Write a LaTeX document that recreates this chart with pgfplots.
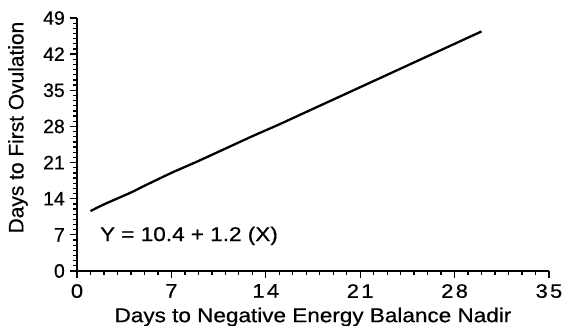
\documentclass[border=0pt]{standalone}
\usepackage{pgfplots}
\pgfplotsset{compat=1.18}
\usepackage{fontspec}
\setmainfont[FakeBold=0.6]{Liberation Sans}
\newfontfamily\vfont[FakeBold=0.6]{Liberation Sans}
\newfontfamily\hfont[FakeStretch=1.13,FakeBold=0.6]{Liberation Sans}
\newfontfamily\xtfont[FakeStretch=1.13,LetterSpace=12,FakeBold=0.6]{Liberation Sans}
\begin{document}
\begin{tikzpicture}[x=1bp,y=1bp]
\begin{axis}[
  scale only axis,
  width=472bp, height=253bp,
  xmin=0, xmax=35, ymin=0, ymax=49,
  axis lines=left,
  axis line style={line width=1.7pt, -},
  xtick={0,7,14,21,28,35},
  ytick={0,7,14,21,28,35,42,49},
  minor x tick num=6,
  minor y tick num=6,
  tick align=outside,
  major tick length=7bp,
  minor tick length=4bp,
  tick style={line width=1.3pt, black},
  /pgf/number format/assume math mode=true,
  xticklabel style={font=\xtfont\fontsize{19.5}{22}\selectfont, anchor=north, inner sep=0pt, yshift=-6bp},
  yticklabel style={font=\vfont\fontsize{19.5}{22}\selectfont, anchor=east, inner sep=0pt, xshift=-5bp},
  xlabel={\hfont Days to Negative Energy Balance Nadir},
  ylabel={\vfont Days to First Ovulation},
  xlabel style={font=\fontsize{20}{22}\selectfont, inner sep=0pt, anchor=center, at={(axis description cs:0.5,-0.1818)}},
  ylabel style={font=\fontsize{21}{24}\selectfont, inner sep=0pt, anchor=center, at={(axis description cs:-0.125,0.567)}},
  clip=false,
]
\addplot[black, line width=2.3pt, smooth] coordinates {
 (1,11.6) (2,12.9) (4,15.2) (5,16.5) (7,19.0) (9,21.3) (11,23.7) (13,26.1)
 (15,28.4) (17,30.8) (19,33.2) (21,35.6) (22,36.8) (24,39.2) (26,41.6) (28,44.0) (30,46.4)
};
\node[anchor=west, inner sep=0pt, font=\hfont\fontsize{20}{22}\selectfont] at (axis cs:1.7,6.8) {Y = 10.4 + 1.2 (X)};
\coordinate (bl) at ([xshift=-77bp,yshift=-55bp]axis description cs:0,0);
\coordinate (tr) at ([xshift=13bp,yshift=18bp]axis description cs:1,1);
\end{axis}
\pgfresetboundingbox
\path[use as bounding box] (bl) rectangle (tr);
\end{tikzpicture}
\end{document}
